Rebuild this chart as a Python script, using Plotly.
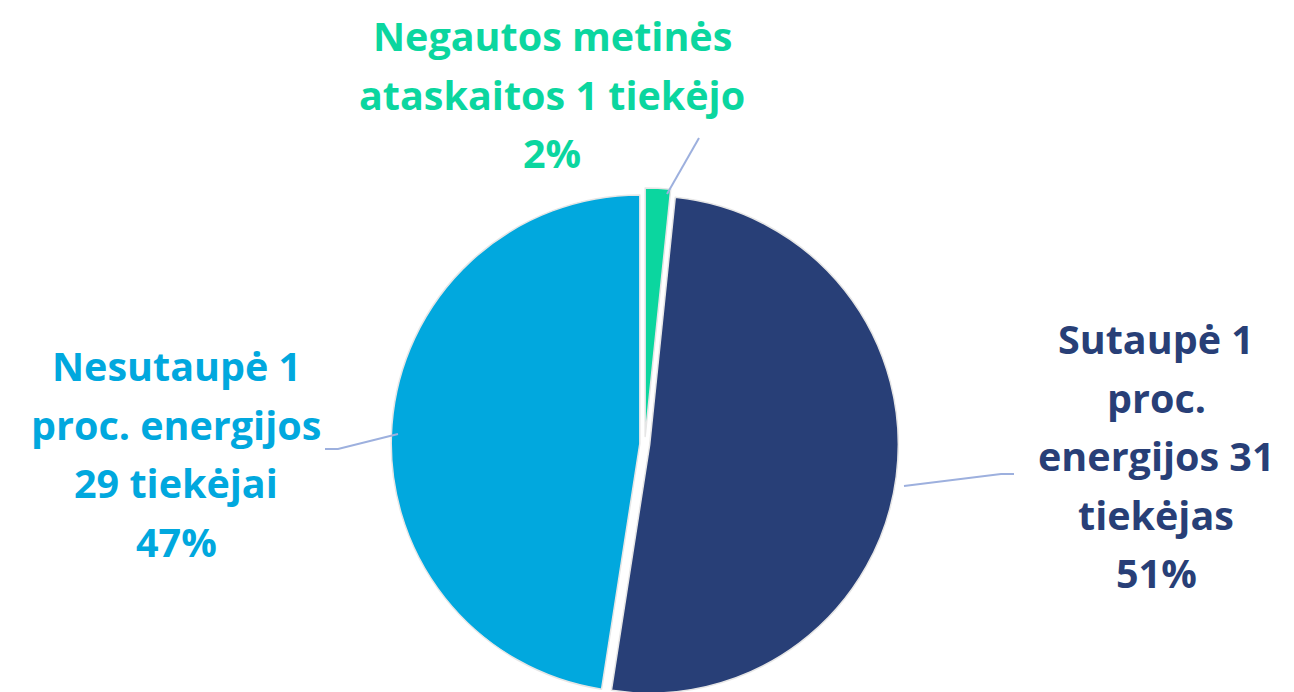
import plotly.graph_objects as go

W, H = 1294, 692

slice_names = [
    "Negautos metinės ataskaitos 1 tiekėjo",
    "Sutaupė 1 proc. energijos 31 tiekėjas",
    "Nesutaupė 1 proc. energijos 29 tiekėjai",
]
slice_values = [1, 31, 29]
slice_colors = ["#0BD69F", "#283F77", "#01A8DE"]
slice_pull = [0.03, 0.02, 0.02]

label_lines = [
    ["Negautos metinės", "ataskaitos 1 tiekėjo", "2%"],
    ["Sutaupė 1", "proc.", "energijos 31", "tiekėjas", "51%"],
    ["Nesutaupė 1", "proc. energijos", "29 tiekėjai", "47%"],
]
# label block centre x and first line centre y, in pixels
label_anchor = [(544, 28), (1148, 331), (168, 358)]
LINE_STEP = 58.5

leader_lines = [
    [(659, 186), (691, 130)],
    [(896, 478), (993, 466), (1006, 466)],
    [(390, 426), (330, 441), (317, 441)],
]

fig = go.Figure()

fig.add_trace(
    go.Pie(
        labels=slice_names,
        values=slice_values,
        sort=False,
        direction="clockwise",
        rotation=0,
        pull=slice_pull,
        marker={"colors": slice_colors, "line": {"color": "#e6e6e6", "width": 1.5}},
        textinfo="none",
        hoverinfo="label+percent",
        showlegend=False,
        domain={"x": [0.1946, 0.7896], "y": [0.0, 0.74]},
    )
)

annotations = []
for lines, (cx, cy), color in zip(label_lines, label_anchor, slice_colors):
    for i, line in enumerate(lines):
        annotations.append(
            {
                "text": f"<b>{line}</b>",
                "x": cx / W,
                "y": 1 - (cy + i * LINE_STEP) / H,
                "xref": "paper",
                "yref": "paper",
                "xanchor": "center",
                "yanchor": "middle",
                "showarrow": False,
                "font": {"family": "Open Sans", "size": 39.5, "color": color},
            }
        )

shapes = []
for pts in leader_lines:
    path = "M " + " L ".join(f"{x / W},{1 - y / H}" for x, y in pts)
    shapes.append(
        {
            "type": "path",
            "path": path,
            "xref": "paper",
            "yref": "paper",
            "line": {"color": "#9DB0DE", "width": 2},
        }
    )

fig.update_layout(
    width=W,
    height=H,
    margin={"l": 0, "r": 0, "t": 0, "b": 0},
    paper_bgcolor="white",
    plot_bgcolor="white",
    annotations=annotations,
    shapes=shapes,
)

fig.write_html("out.html")
